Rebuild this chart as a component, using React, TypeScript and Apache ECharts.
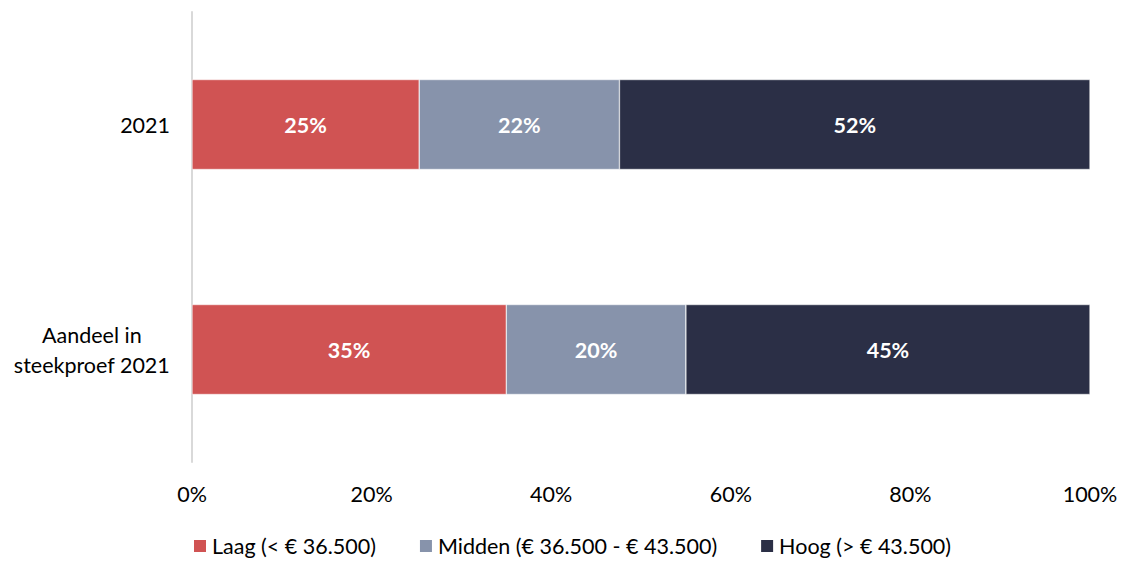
import React, { useEffect, useRef } from "react";
import * as echarts from "echarts";

const categories = ["2021", "Aandeel in\nsteekproef 2021"];
const seriesNames = ["Laag (< € 36.500)", "Midden (€ 36.500 - € 43.500)", "Hoog (> € 43.500)"];
const laag = [25.3, 35.0];
const midden = [22.3, 20.0];
const hoog = [52.4, 45.0];
const colors = ["#D05353", "#8793AB", "#2B2F46"];
const xTicks = [0, 20, 40, 60, 80, 100];

const FONT = "Lato, 'Open Sans', sans-serif";
const FS = 21.5;

export default function App() {
  const ref = useRef<HTMLDivElement>(null);
  useEffect(() => {
    document.body.style.margin = "0";
    const chart = echarts.init(ref.current!, undefined, { renderer: "svg" });
    const values = [laag, midden, hoog];
    chart.setOption({
      animation: false,
      textStyle: { fontFamily: FONT },
      color: colors,
      grid: { left: 192, right: 35, top: 12, bottom: 99, containLabel: false },
      legend: {
        left: 192,
        top: 535,
        padding: 0,
        itemWidth: 14,
        itemHeight: 14,
        itemGap: 42,
        icon: "rect",
        textStyle: { fontFamily: FONT, fontSize: FS, color: "#000" },
        data: seriesNames,
      },
      xAxis: {
        type: "value",
        min: xTicks[0],
        max: xTicks[xTicks.length - 1],
        interval: 20,
        axisLine: { show: false },
        axisTick: { show: false },
        splitLine: { show: false },
        axisLabel: {
          formatter: (v: number) => v + "%",
          fontSize: FS,
          color: "#000",
          fontFamily: FONT,
          margin: 21,
        },
      },
      yAxis: {
        type: "category",
        data: categories,
        inverse: true,
        axisLine: { show: true, lineStyle: { color: "#D9D9D9", width: 2 } },
        axisTick: { show: false },
        axisLabel: {
          fontSize: FS,
          color: "#000",
          fontFamily: FONT,
          margin: 22,
          align: "right",
          formatter: (v: string) =>
            v
              .split("\n")
              .map((l) => "{c|" + l + "}")
              .join("\n"),
          rich: {
            c: { align: "center", fontSize: FS, fontFamily: FONT, color: "#000", lineHeight: 30 },
          },
        },
      },
      series: seriesNames.map((name, i) => ({
        name,
        type: "bar",
        stack: "total",
        barWidth: "40%",
        data: values[i],
        itemStyle: { color: colors[i], borderColor: "#fff", borderWidth: 0.5 },
        label: {
          show: true,
          position: "inside",
          formatter: (p: any) => Math.round(p.value) + "%",
          color: "#fff",
          fontWeight: "bold",
          fontSize: FS,
          fontFamily: FONT,
        },
      })),
    });
    return () => chart.dispose();
  }, []);
  return <div ref={ref} style={{ width: 1125, height: 561 }} />;
}
